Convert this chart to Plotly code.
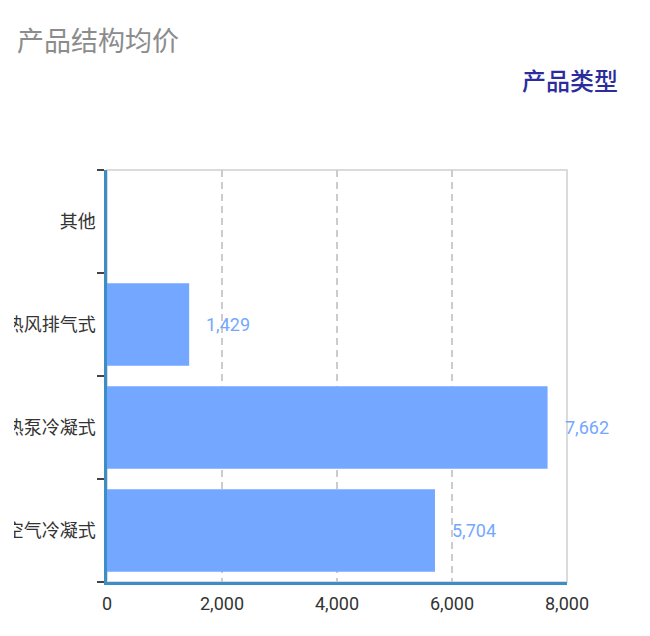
import plotly.graph_objects as go

# categories from bottom to top
categories = ["空气冷凝式", "热泵冷凝式", "热风排气式", "其他"]
avg_price = [5704, 7662, 1429, None]
x_ticks = [0, 2000, 4000, 6000, 8000]

# the page body adds an 8px offset, so the layout is shifted back by 8px
W, H = 650, 636
L, R, T, B = 99, 91, 162, 62
pw, ph = W - L - R, H - T - B

BAR = "#74a7ff"
AXIS_BLUE = "#3d8dc6"
FONT = "Roboto, Noto Sans CJK SC, sans-serif"

fig = go.Figure()
fig.add_trace(go.Bar(
    y=categories,
    x=avg_price,
    orientation="h",
    marker=dict(color=BAR, line=dict(width=0)),
    hoverinfo="x+y",
))

# value labels right of the bars
for cat, val in zip(categories, avg_price):
    if val is None:
        continue
    fig.add_annotation(
        x=val, y=cat, xref="x", yref="y",
        text=f"{val:,}", showarrow=False,
        xanchor="left", xshift=15,
        font=dict(size=18, color=BAR, family=FONT),
    )

# header on the right
fig.add_annotation(
    xref="paper", yref="paper",
    x=(612 - L) / pw, y=(H - B - 71) / ph,
    text="产品类型", showarrow=False,
    xanchor="right", yanchor="middle",
    font=dict(size=24, color="#2b2d9c", family="Noto Sans CJK SC", weight=500),
)

fig.update_layout(
    width=W, height=H,
    margin=dict(l=L, r=R, t=T, b=B),
    paper_bgcolor="white",
    plot_bgcolor="white",
    showlegend=False,
    bargap=0.2,
    font=dict(family=FONT, color="#333333"),
    title=dict(
        text="产品结构均价",
        xref="container", yref="container",
        x=9 / W, y=1 - 34 / H,
        xanchor="left", yanchor="middle",
        font=dict(size=27, color="#8c8c8c", family="Noto Sans CJK SC"),
    ),
    xaxis=dict(
        range=[0, 8000],
        tickvals=x_ticks,
        tickformat=",",
        tickfont=dict(size=18, color="#333333"),
        showgrid=True,
        gridcolor="#cccccc",
        griddash="7px,5px",
        gridwidth=1.5,
        zeroline=False,
        showline=True,
        linecolor=AXIS_BLUE,
        linewidth=2.5,
        ticks="",
        ticklabelstandoff=4,
        automargin=False,
        fixedrange=True,
    ),
    yaxis=dict(
        categoryorder="array",
        categoryarray=categories,
        range=[-0.5, 3.5],
        tickson="boundaries",
        ticks="outside",
        ticklen=7,
        tickcolor="#444444",
        tickwidth=1.5,
        tickfont=dict(size=18, color="#333333", family="Noto Sans CJK SC"),
        showgrid=False,
        zeroline=False,
        showline=True,
        linecolor=AXIS_BLUE,
        linewidth=2.5,
        automargin=False,
        fixedrange=True,
        ticklabelstandoff=5,
    ),
    shapes=[
        # light grey frame (top and right edges)
        dict(type="rect", xref="paper", yref="paper", x0=0, x1=1, y0=0, y1=1,
             line=dict(color="#d0d0d0", width=1.5), layer="below"),
        # the page cuts the long labels on the left
        dict(type="rect", xref="paper", yref="paper",
             x0=-L / pw, x1=(6 - L) / pw, y0=-0.05, y1=1.05,
             fillcolor="white", line=dict(width=0), layer="above"),
    ],
)

fig.write_html("out.html", config={"displayModeBar": False})
